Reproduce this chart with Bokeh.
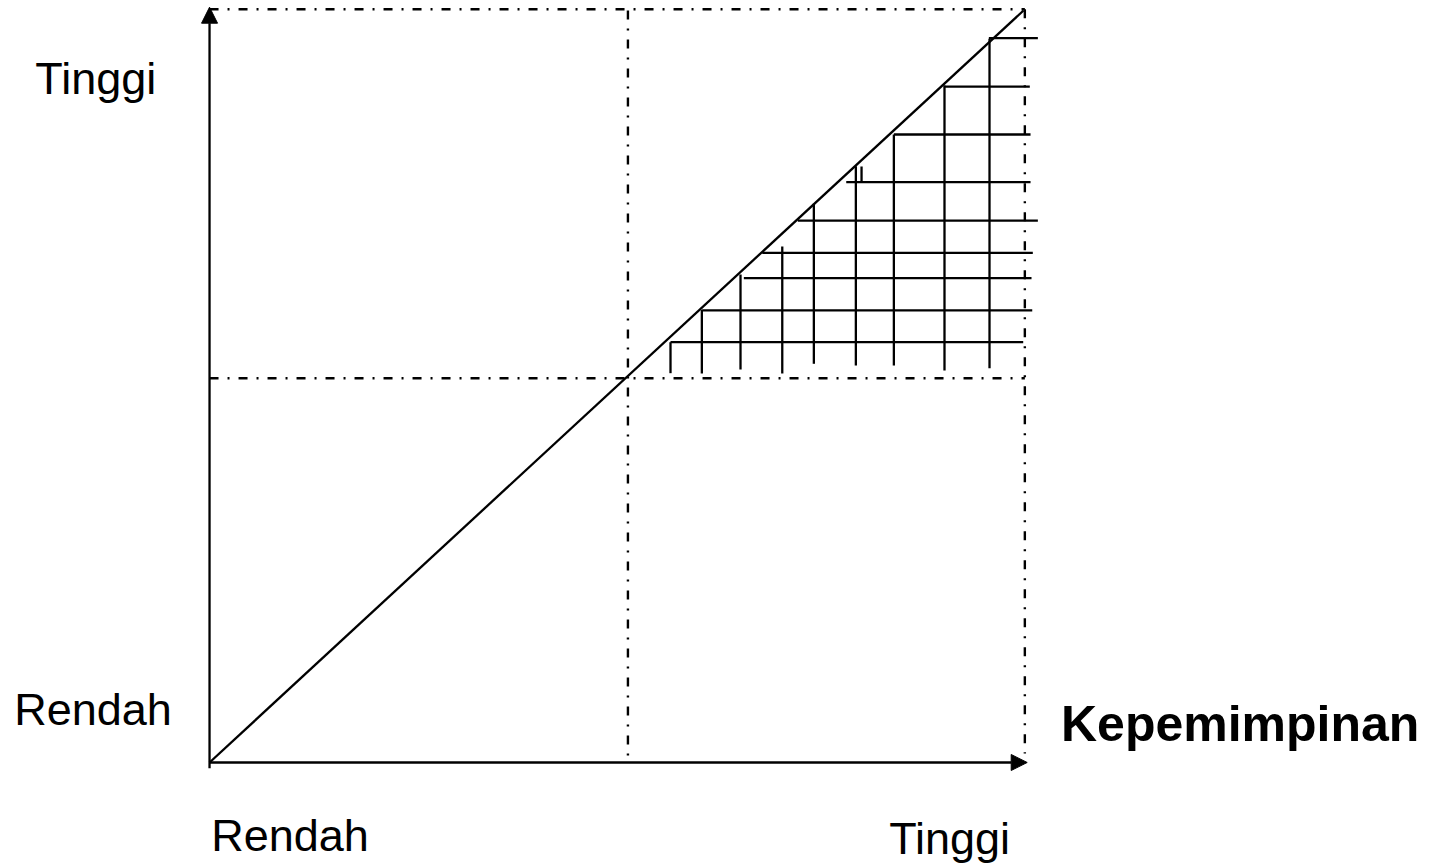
from bokeh.plotting import figure
from bokeh.models import Range1d, Arrow, NormalHead, Label
from bokeh.embed import file_html
from bokeh.resources import INLINE

# ---- data (diagram units: 0 = Rendah, 100 = Tinggi on each axis) ----
diag_x = [0, 100]
diag_y = [0, 100]

mid_x = 51.4          # vertical dash-dot divider
mid_y = 51.1          # horizontal dash-dot divider
edge_max = 100.16     # right / top frame (dash-dot)
right_bottom = 1.2

# hatch: vertical strokes (x, bottom, top)
hv_x = [56.63, 60.48, 65.23, 70.36, 74.24, 79.40, 80.10, 84.07, 90.29, 95.82]
hv_y0 = [51.77, 51.73, 52.26, 51.73, 53.02, 52.79, 77.17, 52.79, 52.13, 52.43]
hv_y1 = [55.89, 60.20, 64.89, 68.62, 74.29, 79.30, 79.26, 83.51, 90.03, 96.24]

# hatch: horizontal strokes (y, left, right)
hh_y = [55.89, 60.11, 64.40, 67.78, 72.07, 77.17, 83.51, 89.89, 96.32]
hh_x0 = [56.63, 60.53, 65.64, 67.90, 72.27, 78.22, 84.07, 90.21, 95.74]
hh_x1 = [99.96, 101.07, 100.98, 101.14, 101.76, 100.86, 100.86, 100.77, 101.76]

# labels
label_text = ["Tinggi", "Rendah", "Rendah", "Tinggi", "Kepemimpinan"]
label_x = [-21.4, -24.0, 0.2, 83.5, 104.6]
label_y = [90.96, 7.05, -9.67, -10.11, 5.09]
label_bold = [False, False, False, False, True]

p = figure(width=1435, height=866,
           x_range=Range1d(-25.68, 150.61), y_range=Range1d(-13.83, 101.33),
           x_axis_type=None, y_axis_type=None, min_border=0,
           toolbar_location=None, output_backend="svg",
           outline_line_color=None, background_fill_color="white")
p.grid.visible = False

lw = 2.3
dd = "9 9 2 9"
# dash-dot frame and dividers
p.segment(x0=[0, edge_max, mid_x, 0], y0=[edge_max, edge_max, 100, mid_y],
          x1=[edge_max, edge_max, mid_x, edge_max], y1=[edge_max, right_bottom, 0, mid_y],
          line_color="black", line_width=2.4, line_dash=dd)

# diagonal
p.line(diag_x, diag_y, line_color="black", line_width=lw)

# hatch
p.segment(x0=hv_x, y0=hv_y0, x1=hv_x, y1=hv_y1, line_color="black", line_width=lw)
p.segment(x0=hh_x0, y0=hh_y, x1=hh_x1, y1=hh_y, line_color="black", line_width=lw)

# axes with arrows
p.add_layout(Arrow(end=NormalHead(size=16, fill_color="black", line_color="black"),
                   x_start=0, y_start=-0.76, x_end=0, y_end=100.44,
                   line_color="black", line_width=lw))
p.add_layout(Arrow(end=NormalHead(size=16, fill_color="black", line_color="black"),
                   x_start=0, y_start=0, x_end=100.45, y_end=0,
                   line_color="black", line_width=lw))

for t, x, y, b in zip(label_text, label_x, label_y, label_bold):
    p.add_layout(Label(x=x, y=y, text=t, text_font="Liberation Sans",
                       text_font_size="50px" if b else "45px",
                       text_font_style="bold" if b else "normal",
                       text_align="left", text_baseline="alphabetic",
                       text_color="black"))

open("out.html", "w").write(file_html(p, INLINE))
